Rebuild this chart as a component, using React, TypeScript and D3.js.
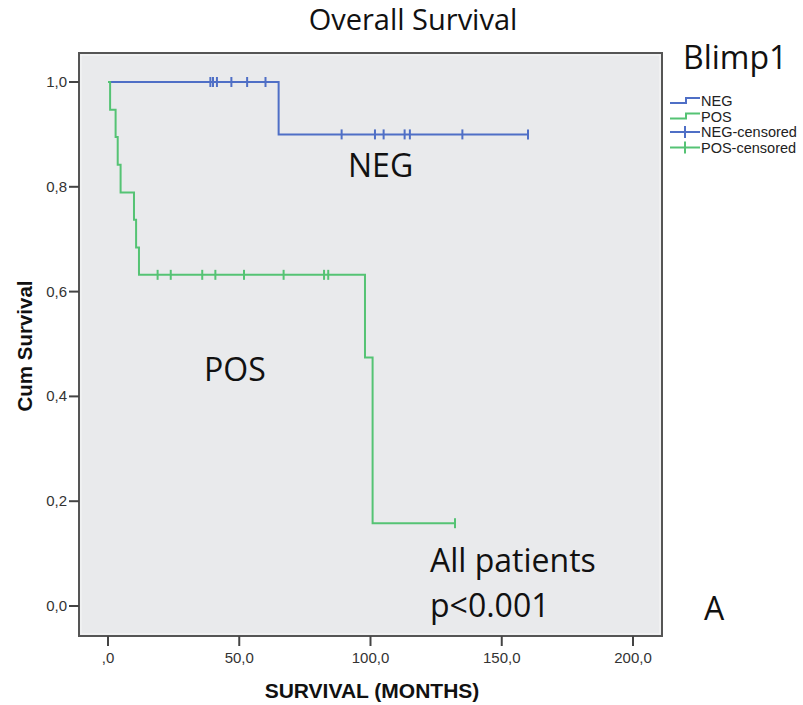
import React from 'react';
import * as d3 from 'd3';

// axis ticks (SPSS style, comma decimals)
const xTicks = [0, 50, 100, 150, 200];
const xTickLabels = [',0', '50,0', '100,0', '150,0', '200,0'];
const yTicks = [0, 0.2, 0.4, 0.6, 0.8, 1.0];
const yTickLabels = ['0,0', '0,2', '0,4', '0,6', '0,8', '1,0'];

// NEG group: step times and cumulative survival after each step
const negTimes = [0, 65];
const negSurv = [1, 0.9];
const negCensored = [39, 40, 41.5, 47, 53, 60, 89, 101.7, 105, 113, 115, 135, 160];

// POS group
const posTimes = [0, 0.8, 2.9, 3.7, 4.8, 9.9, 10.7, 11.8, 97.9, 100.8];
const posSurv = [1, 0.947, 0.895, 0.842, 0.789, 0.737, 0.684, 0.632, 0.474, 0.158];
const posCensored = [18.9, 23.9, 35.9, 40.9, 51.8, 66.9, 82.3, 83.9, 132.2];

const legendItems = ['NEG', 'POS', 'NEG-censored', 'POS-censored'];

const BLUE = '#4f6fc6';
const GREEN = '#55c374';

const W = 803;
const H = 705;

const x = d3.scaleLinear().domain([0, 200]).range([108, 633]);
const y = d3.scaleLinear().domain([0, 1]).range([606, 82]);

const survAt = (times: number[], surv: number[], t: number) => {
  let s = surv[0];
  times.forEach((tt, i) => { if (tt <= t) s = surv[i]; });
  return s;
};

const curvePath = (times: number[], surv: number[], end: number) => {
  const pts: [number, number][] = times.map((t, i) => [t, surv[i]]);
  pts.push([end, surv[surv.length - 1]]);
  return d3.line<[number, number]>()
    .x(d => x(d[0]))
    .y(d => y(d[1]))
    .curve(d3.curveStepAfter)(pts) || '';
};

const Censor = ({ times, stimes, surv, color }: { times: number[]; stimes: number[]; surv: number[]; color: string }) => (
  <g stroke={color} strokeWidth={2}>
    {times.map((t, i) => {
      const cx = x(t);
      const cy = y(survAt(stimes, surv, t));
      return <line key={i} x1={cx} x2={cx} y1={cy - 5} y2={cy + 5} />;
    })}
  </g>
);

export default function App() {
  const frame = { x0: 79, y0: 53, x1: 662, y1: 636 };
  const big = { fontFamily: '"Open Sans", sans-serif', fill: '#111' } as const;
  const axisFont = { fontFamily: '"Liberation Sans", Arial, sans-serif', fill: '#333' } as const;

  return (
    <svg width={W} height={H} style={{ position: 'absolute', left: 0, top: 0, background: '#fff' }}>
      {/* plot frame */}
      <rect x={frame.x0} y={frame.y0} width={frame.x1 - frame.x0} height={frame.y1 - frame.y0}
        fill="#e9eaec" stroke="#555" strokeWidth={2} />
      <rect x={frame.x0 + 2} y={frame.y0 + 2} width={frame.x1 - frame.x0 - 4} height={frame.y1 - frame.y0 - 4}
        fill="none" stroke="#f6f6f6" strokeWidth={1} />

      {/* y axis */}
      {yTicks.map((t, i) => (
        <g key={t}>
          <line x1={frame.x0 - 10} x2={frame.x0} y1={y(t)} y2={y(t)} stroke="#444" strokeWidth={2} />
          <text x={frame.x0 - 12} y={y(t) + 5} textAnchor="end" fontSize={15} {...axisFont}>{yTickLabels[i]}</text>
        </g>
      ))}
      <text transform="translate(32,346) rotate(-90)" textAnchor="middle" fontSize={20.5} fontWeight="bold"
        {...axisFont} fill="#111">Cum Survival</text>

      {/* x axis */}
      {xTicks.map((t, i) => (
        <g key={t}>
          <line x1={x(t)} x2={x(t)} y1={frame.y1} y2={frame.y1 + 10} stroke="#444" strokeWidth={2} />
          <text x={x(t)} y={frame.y1 + 27} textAnchor="middle" fontSize={15} {...axisFont}>{xTickLabels[i]}</text>
        </g>
      ))}
      <text x={372} y={698} textAnchor="middle" fontSize={21} fontWeight="bold" {...axisFont} fill="#111">
        SURVIVAL (MONTHS)
      </text>

      {/* curves */}
      <path d={curvePath(negTimes, negSurv, negCensored[negCensored.length - 1])} fill="none" stroke={BLUE} strokeWidth={2} />
      <path d={curvePath(posTimes, posSurv, posCensored[posCensored.length - 1])} fill="none" stroke={GREEN} strokeWidth={2} />
      <Censor times={negCensored} stimes={negTimes} surv={negSurv} color={BLUE} />
      <Censor times={posCensored} stimes={posTimes} surv={posSurv} color={GREEN} />

      {/* annotations */}
      <text x={413} y={30} textAnchor="middle" fontSize={29} {...big}>Overall Survival</text>
      <text x={683} y={69} fontSize={32} {...big}>Blimp1</text>
      <text x={348} y={177} fontSize={32} {...big}>NEG</text>
      <text x={204} y={381} fontSize={32} {...big}>POS</text>
      <text x={430} y={572} fontSize={32} {...big}>All patients</text>
      <text x={430} y={617} fontSize={32} {...big}>p&lt;0.001</text>
      <text x={704} y={620} fontSize={32} {...big}>A</text>

      {/* legend */}
      {legendItems.map((name, i) => {
        const cy = 101 + i * 15.5;
        const color = i % 2 === 0 ? BLUE : GREEN;
        return (
          <g key={name}>
            {i < 2 ? (
              <path d={`M670,${cy + 2}H686V${cy - 3}H700`} fill="none" stroke={color} strokeWidth={2} />
            ) : (
              <g stroke={color} strokeWidth={2}>
                <line x1={670} x2={700} y1={cy} y2={cy} />
                <line x1={685} x2={685} y1={cy - 6} y2={cy + 6} />
              </g>
            )}
            <text x={701} y={cy + 5} fontSize={14.5} {...axisFont} fill="#222">{name}</text>
          </g>
        );
      })}
    </svg>
  );
}
